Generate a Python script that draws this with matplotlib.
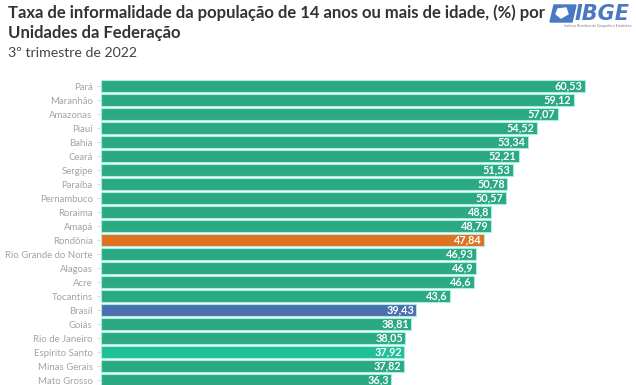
import matplotlib
matplotlib.use("Agg")
import matplotlib.pyplot as plt
from matplotlib.patches import Polygon

categories = ["Pará", "Maranhão", "Amazonas", "Piauí", "Bahia", "Ceará", "Sergipe",
              "Paraíba", "Pernambuco", "Roraima", "Amapá", "Rondônia",
              "Rio Grande do Norte", "Alagoas", "Acre", "Tocantins", "Brasil",
              "Goiás", "Rio de Janeiro", "Espírito Santo", "Minas Gerais", "Mato Grosso"]
values = [60.53, 59.12, 57.07, 54.52, 53.34, 52.21, 51.53, 50.78, 50.57, 48.8, 48.79,
          47.84, 46.93, 46.9, 46.6, 43.6, 39.43, 38.81, 38.05, 37.92, 37.82, 36.3]
value_labels = ["60,53", "59,12", "57,07", "54,52", "53,34", "52,21", "51,53", "50,78",
                "50,57", "48,8", "48,79", "47,84", "46,93", "46,9", "46,6", "43,6",
                "39,43", "38,81", "38,05", "37,92", "37,82", "36,3"]
highlight = {"Rondônia": "#e0711f", "Brasil": "#4a6fae", "Espírito Santo": "#1fbf97"}
base_color = "#2aa983"

title = "Taxa de informalidade da população de 14 anos ou mais de idade, (%) por"
title2 = "Unidades da Federação"
subtitle = "3º trimestre de 2022"

FONT = "Lato"
W, H = 636, 385
fig = plt.figure(figsize=(W / 100, H / 100), dpi=100)
fig.patch.set_facecolor("white")

ax_left, ax_top = 101, 78
ax = fig.add_axes([ax_left / W, 0, (W - ax_left) / W, (H - ax_top) / H])
px_per_unit = 8.0
row_pitch, first_center = 14.0, 86.0
ax.set_xlim(0, (W - ax_left) / px_per_unit)
ax.set_ylim((H - first_center) / row_pitch, (ax_top - first_center) / row_pitch)

ypos = list(range(len(categories)))
colors = [highlight.get(c, base_color) for c in categories]
ax.barh(ypos, values, height=0.88, color=colors, edgecolor="#a9eedc", linewidth=0.8)
for y, v, lab in zip(ypos, values, value_labels):
    ax.text(v - 0.3, y, lab, ha="right", va="center", color="white",
            fontsize=7.8, fontweight="bold", family=FONT)

ax.set_yticks(ypos)
ax.set_yticklabels(categories, family=FONT, fontsize=6.9, color="#a3a3a3")
ax.tick_params(axis="y", length=3, color="#dddddd", pad=3)
ax.tick_params(axis="x", bottom=False, labelbottom=False)
for s in ax.spines.values():
    s.set_visible(False)

# Titles, each fitted to the reference width
fig.canvas.draw()
r = fig.canvas.get_renderer()


def fitted(x, base_y, txt, width, weight, color):
    t = fig.text(x / W, 1 - base_y / H, txt, ha="left", va="baseline", family=FONT,
                 fontweight=weight, fontsize=12, color=color)
    bb = t.get_window_extent(r)
    t.set_fontsize(12 * width / bb.width)
    return t


fitted(8, 18.3, title, 535, "bold", "#333333")
fitted(8, 38.0, title2, 172, "bold", "#333333")
fitted(8, 57.3, subtitle, 129, "normal", "#444444")

# IBGE logo (text based)
logo = fig.add_axes([548 / W, 1 - 28 / H, 86 / W, 26 / H])
logo.set_xlim(0, 86)
logo.set_ylim(26, 0)
logo.axis("off")
logo.add_patch(Polygon([[6, 3], [28, 3], [24, 20], [2, 20]], closed=True,
                       color="#4a78c2"))
logo.add_patch(Polygon([[10, 7], [18, 6], [20, 12], [13, 16], [8, 12]], closed=True,
                       color="white"))
logo.text(27, 12, "IBGE", ha="left", va="center", fontsize=15, fontweight="bold",
          style="italic", color="#4a78c2", family="DejaVu Sans")
logo.text(50, 24, "Instituto Brasileiro de Geografia e Estatística", ha="center",
          va="center", fontsize=2.2, color="#777777", family="DejaVu Sans")

fig.savefig("out.png", dpi=100, facecolor="white")
